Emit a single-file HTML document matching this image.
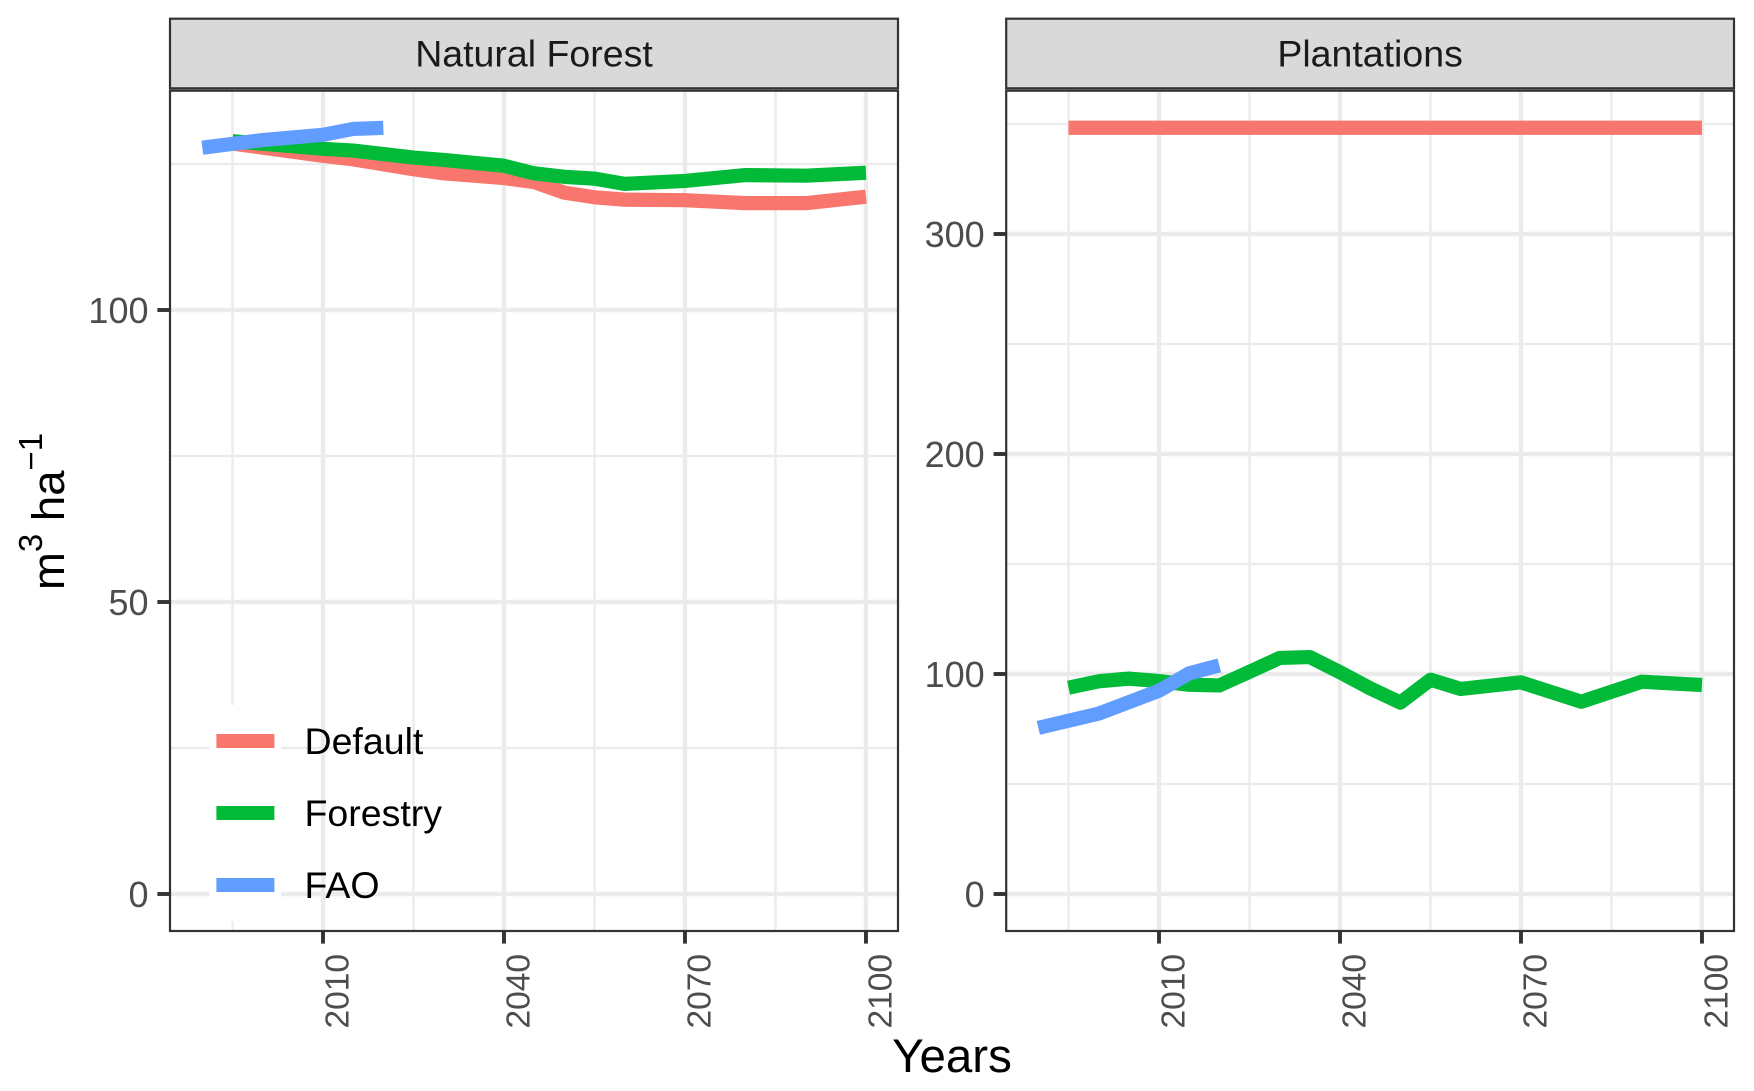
<!DOCTYPE html>
<html lang="en">
<head>
<meta charset="utf-8">
<title>Natural Forest and Plantations growing stock</title>
<style>
html,body{margin:0;padding:0;background:#fff;width:1754px;height:1091px;overflow:hidden}
svg{display:block;font-family:"Liberation Sans",Arial,sans-serif}
</style>
</head>
<body>
<svg id="chart" width="1754" height="1091" viewBox="0 0 1754 1091" xmlns="http://www.w3.org/2000/svg">
  <rect x="0" y="0" width="1754" height="1091" fill="#ffffff"/>
  <g id="panel-a"></g>
  <g id="panel-b"></g>
  <text x="952" y="1072" font-size="47.5" text-anchor="middle" fill="#000">Years</text>
  <text transform="translate(64,590) rotate(-90)" font-size="45.5" fill="#000">m<tspan font-size="33" dy="-22">3</tspan><tspan font-size="45.5" dy="22"> ha</tspan><tspan font-size="33" dy="-22">−1</tspan></text>
</svg>
<script>
// ---- data ----
const xMajorTicks = [2010, 2040, 2070, 2100];
const xMinorTicks = [1995, 2025, 2055, 2085];

const forestYMajor = [0, 50, 100];
const forestYMinor = [25, 75, 125];
const plantYMajor = [0, 100, 200, 300];
const plantYMinor = [50, 150, 250, 350];

const forestDefaultYears = [1995, 2010, 2015, 2025, 2030, 2040, 2045, 2050, 2055, 2060, 2070, 2080, 2090, 2100];
const forestDefaultValues = [128.5, 126.4, 125.8, 124.1, 123.4, 122.6, 121.9, 120.1, 119.3, 118.9, 118.8, 118.3, 118.3, 119.4];
const forestForestryYears = [1995, 2010, 2015, 2025, 2030, 2040, 2045, 2050, 2055, 2060, 2070, 2080, 2090, 2100];
const forestForestryValues = [128.9, 127.6, 127.3, 126.1, 125.7, 124.7, 123.4, 122.8, 122.5, 121.6, 122.1, 123.1, 123.0, 123.5];
const forestFaoYears = [1990, 2000, 2010, 2015, 2020];
const forestFaoValues = [127.8, 129.1, 130.0, 131.0, 131.2];

const plantDefaultYears = [1995, 2100];
const plantDefaultValues = [348.3, 348.3];
const plantForestryYears = [1995, 2000, 2005, 2010, 2015, 2020, 2025, 2030, 2035, 2040, 2045, 2050, 2055, 2060, 2070, 2080, 2090, 2100];
const plantForestryValues = [93.8, 96.7, 97.9, 96.8, 95.1, 94.8, 101, 107.3, 107.7, 100.8, 93.5, 87, 97.4, 93.2, 96.2, 87.4, 96.5, 95];
const plantFaoYears = [1990, 2000, 2010, 2015, 2020];
const plantFaoValues = [75.5, 82, 92.4, 100.3, 103.9];

const legendLabels = ["Default", "Forestry", "FAO"];

// ---- drawing ----
const NS = "http://www.w3.org/2000/svg";
const COLORS = {Default: "#F8766D", Forestry: "#00BA38", FAO: "#619CFF"};
const TOP = 90.7, BOTTOM = 931;

function mk(parent, tag, attrs, text) {
  const el = document.createElementNS(NS, tag);
  for (const k in attrs) el.setAttribute(k, attrs[k]);
  if (text !== undefined) el.textContent = text;
  parent.appendChild(el);
  return el;
}

function drawPanel(root, cfg) {
  const x = yr => cfg.x2010 + (yr - 2010) * cfg.xPerYear;
  const y = v => 894 - v * cfg.yPerUnit;

  const bg = mk(root, "rect", {x: cfg.left, y: TOP, width: cfg.right - cfg.left, height: BOTTOM - TOP, fill: "#fff"});
  
  

  cfg.yMinor.forEach(v => {
    const l = mk(root, "line", {x1: cfg.left, x2: cfg.right, y1: y(v), y2: y(v), stroke: "#ebebeb", "stroke-width": 2.3});
    
    
  });
  xMinorTicks.forEach(t => {
    const l = mk(root, "line", {x1: x(t), x2: x(t), y1: TOP, y2: BOTTOM, stroke: "#ebebeb", "stroke-width": 2.3});
    
    
  });
  cfg.yMajor.forEach(v => {
    const l = mk(root, "line", {x1: cfg.left, x2: cfg.right, y1: y(v), y2: y(v), stroke: "#ebebeb", "stroke-width": 4.4});
    
    
  });
  xMajorTicks.forEach(t => {
    const l = mk(root, "line", {x1: x(t), x2: x(t), y1: TOP, y2: BOTTOM, stroke: "#ebebeb", "stroke-width": 4.4});
    
    
  });

  cfg.series.forEach(s => {
    const pts = s.years.map((yr, i) => x(yr).toFixed(2) + "," + y(s.values[i]).toFixed(2)).join(" ");
    const p = mk(root, "polyline", {points: pts, fill: "none", stroke: COLORS[s.key], "stroke-width": 14.2, "stroke-linejoin": "round", "stroke-linecap": "butt"});
    
    
  });

  const border = mk(root, "rect", {x: cfg.left, y: TOP, width: cfg.right - cfg.left, height: BOTTOM - TOP, fill: "none", stroke: "#333333", "stroke-width": 2.2});
  
  

  const strip = mk(root, "rect", {x: cfg.left, y: 18.7, width: cfg.right - cfg.left, height: 69.6, fill: "#d9d9d9", stroke: "#333333", "stroke-width": 2.2});
  
  
  const stripText = mk(root, "text", {x: (cfg.left + cfg.right) / 2, y: 66.5, "font-size": 37.5, "text-anchor": "middle", fill: "#1a1a1a"}, cfg.title);
  
  

  cfg.yMajor.forEach(v => {
    const t = mk(root, "line", {x1: cfg.left - 12.6, x2: cfg.left, y1: y(v), y2: y(v), stroke: "#333333", "stroke-width": 3.9});
    
    
    const lab = mk(root, "text", {x: cfg.left - 21.5, y: y(v) + 13.2, "font-size": 36, "text-anchor": "end", fill: "#4d4d4d"}, String(v));
    
    
  });
  xMajorTicks.forEach(tk => {
    const t = mk(root, "line", {x1: x(tk), x2: x(tk), y1: BOTTOM, y2: BOTTOM + 12.6, stroke: "#333333", "stroke-width": 3.9});
    
    
    const lab = mk(root, "text", {transform: "translate(" + (x(tk) + 25.5).toFixed(2) + ",954) rotate(-90)", "font-size": 33.5, "text-anchor": "end", fill: "#4d4d4d"}, String(tk));
    
    
  });
}

function drawLegend(root) {
  legendLabels.forEach((name, i) => {
    const top = 705 + i * 72;
    const key = mk(root, "rect", {x: 209.5, y: top, width: 71.5, height: 72, fill: "#fff"});
    
    
    const sw = mk(root, "line", {x1: 216.4, x2: 274.4, y1: top + 36, y2: top + 36, stroke: COLORS[name], "stroke-width": 14});
    
    
    const lab = mk(root, "text", {x: 304.5, y: top + 49, "font-size": 37.5, fill: "#000"}, name);
    
    
  });
}

const panelA = document.getElementById("panel-a");
const panelB = document.getElementById("panel-b");

drawPanel(panelA, {
  title: "Natural Forest", left: 170, right: 898, x2010: 323, xPerYear: 6.033, yPerUnit: 5.84,
  yMajor: forestYMajor, yMinor: forestYMinor,
  series: [
    {key: "Default", name: "natural-forest-default-line", years: forestDefaultYears, values: forestDefaultValues},
    {key: "Forestry", name: "natural-forest-forestry-line", years: forestForestryYears, values: forestForestryValues},
    {key: "FAO", name: "natural-forest-fao-line", years: forestFaoYears, values: forestFaoValues}
  ]
});
drawPanel(panelB, {
  title: "Plantations", left: 1006.2, right: 1734, x2010: 1159, xPerYear: 6.033, yPerUnit: 2.2,
  yMajor: plantYMajor, yMinor: plantYMinor,
  series: [
    {key: "Default", name: "plantations-default-line", years: plantDefaultYears, values: plantDefaultValues},
    {key: "Forestry", name: "plantations-forestry-line", years: plantForestryYears, values: plantForestryValues},
    {key: "FAO", name: "plantations-fao-line", years: plantFaoYears, values: plantFaoValues}
  ]
});
drawLegend(panelA);
</script>
</body>
</html>
